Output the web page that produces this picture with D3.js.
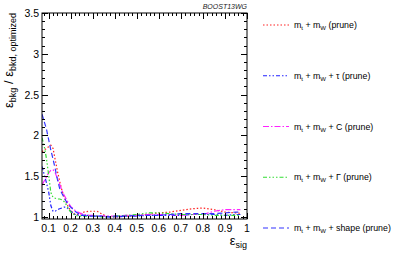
<!DOCTYPE html>
<html>
<head>
<meta charset="utf-8">
<script src="https://cdn.jsdelivr.net/npm/d3@7"></script>
<style>
  body { margin: 0; background: #fff; }
  svg { font-family: "Liberation Sans", Arial, sans-serif; }
</style>
</head>
<body>
<div id="chart"></div>
<script>
// signal efficiency points (shared by all curves)
var effSig = [0.07, 0.08, 0.09, 0.10, 0.11, 0.12, 0.13, 0.14, 0.15, 0.16, 0.17, 0.18, 0.19, 0.20,
  0.22, 0.24, 0.26, 0.28, 0.30, 0.32, 0.34, 0.36, 0.38, 0.40, 0.45, 0.50, 0.55, 0.60, 0.65,
  0.70, 0.75, 0.80, 0.85, 0.90, 0.95, 0.97];

// background efficiency ratio for each combination
var ratioMass = [1.80, 1.82, 1.84, 1.86, 1.88, 1.84, 1.70, 1.56, 1.44, 1.33, 1.25, 1.18, 1.12, 1.08,
  1.03, 1.03, 1.06, 1.07, 1.07, 1.07, 1.04, 1.01, 1.00, 1.00, 1.01, 1.02, 1.03, 1.05, 1.06,
  1.08, 1.10, 1.11, 1.09, 1.06, 1.05, 1.045];
var ratioTau = [1.62, 1.52, 1.42, 1.31, 1.14, 1.07, 1.07, 1.09, 1.10, 1.11, 1.12, 1.12, 1.10, 1.07,
  1.03, 1.02, 1.02, 1.02, 1.01, 1.01, 1.01, 1.01, 1.00, 1.00, 1.01, 1.01, 1.02, 1.02, 1.02,
  1.02, 1.03, 1.03, 1.03, 1.02, 1.03, 1.03];
var ratioC = [1.39, 1.44, 1.49, 1.54, 1.57, 1.58, 1.54, 1.47, 1.40, 1.33, 1.27, 1.22, 1.17, 1.13,
  1.08, 1.05, 1.03, 1.02, 1.02, 1.01, 1.01, 1.01, 1.01, 1.01, 1.02, 1.02, 1.03, 1.03, 1.03,
  1.02, 1.03, 1.03, 1.07, 1.09, 1.09, 1.09];
var ratioGamma = [1.97, 1.87, 1.72, 1.52, 1.30, 1.24, 1.23, 1.22, 1.22, 1.21, 1.19, 1.15, 1.10, 1.06,
  1.02, 1.01, 1.01, 1.01, 1.01, 1.01, 1.00, 1.00, 1.00, 1.01, 1.02, 1.03, 1.05, 1.05, 1.04,
  1.03, 1.03, 1.03, 1.02, 1.02, 1.02, 1.02];
var ratioShape = [2.26, 2.17, 2.08, 1.95, 1.82, 1.71, 1.59, 1.46, 1.35, 1.29, 1.24, 1.19, 1.15, 1.12,
  1.07, 1.03, 1.02, 1.01, 1.01, 1.01, 1.01, 1.00, 1.00, 1.01, 1.01, 1.02, 1.02, 1.02, 1.03,
  1.04, 1.04, 1.04, 1.04, 1.05, 1.06, 1.06];

var xTicks = [0.1, 0.2, 0.3, 0.4, 0.5, 0.6, 0.7, 0.8, 0.9, 1];
var yTicks = [1, 1.5, 2, 2.5, 3, 3.5];

var series = [
  { name: "mass", values: ratioMass, color: "#ff2222", dash: "1.5 2", extra: "" },
  { name: "tau", values: ratioTau, color: "#2222ff", dash: "4 2 1.5 2 1.5 2", extra: "τ" },
  { name: "C", values: ratioC, color: "#ff22ff", dash: "6 2 1.5 2", extra: "C" },
  { name: "gamma", values: ratioGamma, color: "#33dd33", dash: "4 2 1.5 2 1.5 2 1.5 2", extra: "Γ" },
  { name: "shape", values: ratioShape, color: "#3333ff", dash: "5 3", extra: "shape" }
];

var svgWidth = 399;
var svgHeight = 254;
var margin = { top: 13, right: 152, bottom: 35, left: 42 };
var width = svgWidth - margin.left - margin.right;
var height = svgHeight - margin.top - margin.bottom;

var svg = d3.select("#chart")
  .append("svg")
  .attr("width", svgWidth)
  .attr("height", svgHeight);

var chartGroup = svg.append("g")
  .attr("transform", `translate(${margin.left}, ${margin.top})`);

var xScale = d3.scaleLinear().domain([0.07, 1]).range([0, width]);
var yScale = d3.scaleLinear().domain([0.975, 3.5]).range([height, 0]);

// clip region for the curves
chartGroup.append("clipPath").attr("id", "frame")
  .append("rect").attr("width", width).attr("height", height);

// curves
var line = d3.line()
  .x((d, i) => xScale(effSig[i]))
  .y(d => yScale(d));

chartGroup.append("g").attr("clip-path", "url(#frame)")
  .selectAll("path")
  .data(series)
  .enter()
  .append("path")
  .attr("d", d => line(d.values))
  .attr("fill", "none")
  .attr("stroke", d => d.color)
  .attr("stroke-width", 1.2)
  .attr("stroke-dasharray", d => d.dash);

// frame
chartGroup.append("rect")
  .attr("width", width).attr("height", height)
  .attr("fill", "none").attr("stroke", "#000").attr("stroke-width", 1);

// ticks: major and minor, inside the frame on all four sides
var xMinor = d3.range(0.08, 1.0001, 0.02).filter(v => v >= 0.07);
var yMinor = d3.range(1, 3.5001, 0.1);

function isMajorX(v) { return Math.abs(v * 10 - Math.round(v * 10)) < 1e-6; }
function isMajorY(v) { return Math.abs(v * 2 - Math.round(v * 2)) < 1e-6; }

var tickG = chartGroup.append("g").attr("stroke", "#000").attr("stroke-width", 1);
xMinor.forEach(function (v) {
  var len = isMajorX(v) ? 6 : 3;
  var x = Math.round(xScale(v)) + 0.5;
  tickG.append("line").attr("x1", x).attr("x2", x).attr("y1", height).attr("y2", height - len);
  tickG.append("line").attr("x1", x).attr("x2", x).attr("y1", 0).attr("y2", len);
});
yMinor.forEach(function (v) {
  var len = isMajorY(v) ? 6 : 3;
  var y = Math.round(yScale(v)) + 0.5;
  tickG.append("line").attr("x1", 0).attr("x2", len).attr("y1", y).attr("y2", y);
  tickG.append("line").attr("x1", width).attr("x2", width - len).attr("y1", y).attr("y2", y);
});

// tick labels
chartGroup.selectAll(".xlab")
  .data(xTicks)
  .enter()
  .append("text")
  .attr("x", d => xScale(d))
  .attr("y", height + 13)
  .attr("text-anchor", "middle")
  .attr("font-size", "10.5px")
  .text(d => d);

chartGroup.selectAll(".ylab")
  .data(yTicks)
  .enter()
  .append("text")
  .attr("x", -3)
  .attr("y", d => yScale(d) + 4)
  .attr("text-anchor", "end")
  .attr("font-size", "10.5px")
  .text(d => d);

// axis titles
var xTitle = chartGroup.append("text")
  .attr("x", width)
  .attr("y", height + 26)
  .attr("text-anchor", "end")
  .attr("font-size", "13px");
xTitle.append("tspan").text("ε");
xTitle.append("tspan").attr("font-size", "9px").attr("dy", 3).text("sig");

var yTitle = svg.append("text")
  .attr("transform", `translate(13, ${margin.top}) rotate(-90)`)
  .attr("text-anchor", "end")
  .attr("font-size", "13px");
yTitle.append("tspan").text("ε");
yTitle.append("tspan").attr("font-size", "9px").attr("dy", 3).text("bkg");
yTitle.append("tspan").attr("dy", -3).text(" / ε");
yTitle.append("tspan").attr("font-size", "9px").attr("dy", 3).text("bkd, optimized");

// watermark
chartGroup.append("text")
  .attr("x", width)
  .attr("y", -4)
  .attr("text-anchor", "end")
  .attr("font-size", "7px")
  .attr("font-style", "italic")
  .attr("fill", "#222")
  .text("BOOST13WG");

// legend
var legendY = d3.scalePoint().domain(series.map(d => d.name)).range([25, 228]);
var legend = svg.append("g");
series.forEach(function (s) {
  var y = legendY(s.name);
  legend.append("line")
    .attr("x1", 263).attr("x2", 289)
    .attr("y1", y).attr("y2", y)
    .attr("stroke", s.color)
    .attr("stroke-width", 1.2)
    .attr("stroke-dasharray", s.dash);
  var t = legend.append("text")
    .attr("x", 294).attr("y", y + 3)
    .attr("font-size", "8.8px");
  t.append("tspan").text("m");
  t.append("tspan").attr("font-size", "6px").attr("dy", 2).text("t");
  t.append("tspan").attr("dy", -2).text(" + m");
  t.append("tspan").attr("font-size", "6px").attr("dy", 2).text("W");
  t.append("tspan").attr("dy", -2).text((s.extra ? " + " + s.extra : "") + " (prune)");
});
</script>
</body>
</html>
